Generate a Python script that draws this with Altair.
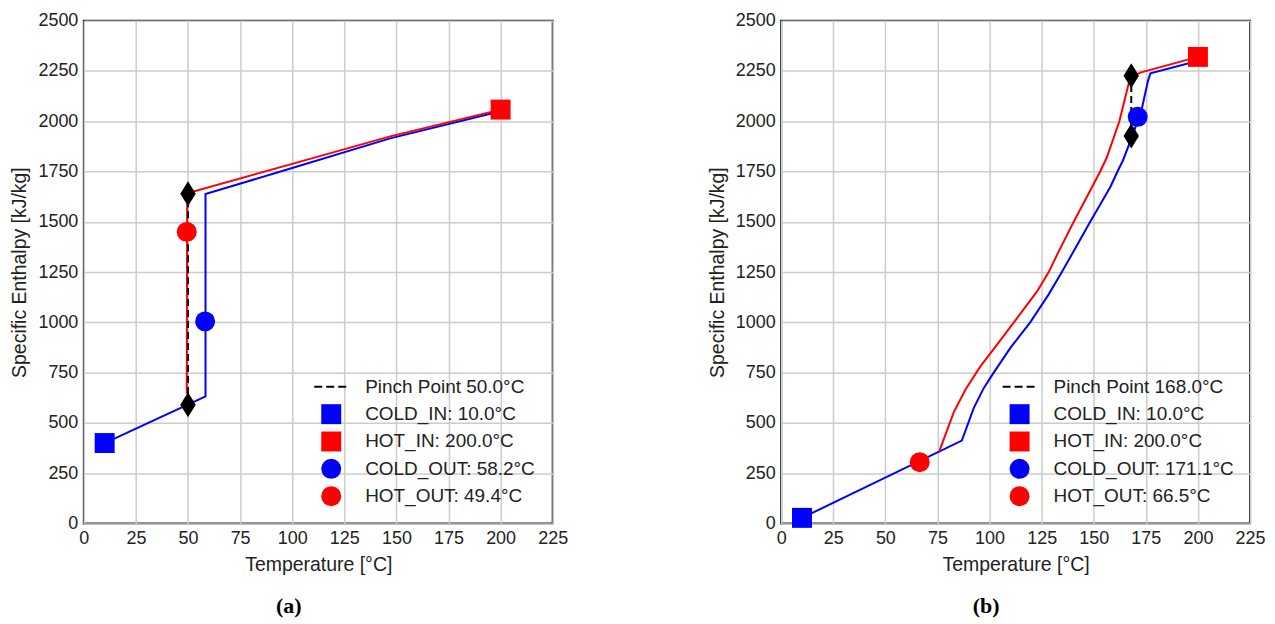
import altair as alt
import pandas as pd

# ---------------- data ----------------
x_ticks = [0, 25, 50, 75, 100, 125, 150, 175, 200, 225]
y_ticks = [0, 250, 500, 750, 1000, 1250, 1500, 1750, 2000, 2250, 2500]

# Panel (a)
a_cold_T = [10, 58.4, 58.4, 100, 147, 200]
a_cold_H = [400, 632, 1638, 1768, 1915, 2050]
a_hot_T = [200, 147, 100, 49.6, 49.4]
a_hot_H = [2058, 1925, 1788, 1642, 645]
a_pinch_T = 50.0
a_pinch_H = [590, 1640]
a_marker_T = [10.0, 200.0, 58.2, 49.4]
a_marker_H = [400, 2058, 1005, 1450]
a_labels = ["Pinch Point 50.0°C", "COLD_IN: 10.0°C", "HOT_IN: 200.0°C",
            "COLD_OUT: 58.2°C", "HOT_OUT: 49.4°C"]

# Panel (b)
b_cold_T = [10, 86.7, 92.4, 97.2, 102.0, 109.9, 119.5, 128.3, 134.7, 141.5,
            148.3, 157.9, 161.4, 164.0, 168.3, 171.0, 173.2, 176.0, 177.2,
            197, 200]
b_cold_H = [28, 412, 574, 673, 750, 872, 1000, 1138, 1250, 1375,
            1500, 1672, 1750, 1805, 1920, 2000, 2068, 2200, 2238,
            2292, 2302]
b_hot_T = [200, 172.3, 167.5, 165.1, 162.3, 156.3, 153.1, 148.3, 140.4,
           133.2, 128.4, 122.8, 113.2, 103.6, 95.6, 88.4, 82.8, 76]
b_hot_H = [2320, 2242, 2217, 2118, 2000, 1821, 1750, 1656, 1500,
           1353, 1250, 1154, 1021, 889, 781, 665, 553, 362]
b_pinch_T = 168.0
b_pinch_H = [1927, 2226]
b_marker_T = [10.0, 200.0, 171.1, 66.5]
b_marker_H = [28, 2320, 2022, 305]
b_labels = ["Pinch Point 168.0°C", "COLD_IN: 10.0°C", "HOT_IN: 200.0°C",
            "COLD_OUT: 171.1°C", "HOT_OUT: 66.5°C"]

BLUE = "#0000ff"
RED = "#ff0000"
TEXT = "#222222"
DIAMOND = "M0,-1L0.62,0L0,1L-0.62,0Z"
DASHES = ("M-1.7,-0.1H-0.9V0.1H-1.7Z M-0.5,-0.1H0.3V0.1H-0.5Z "
          "M0.7,-0.1H1.5V0.1H0.7Z")
legend_colors = ["black", BLUE, RED, BLUE, RED]
legend_shapes = [DASHES, "square", "square", "circle", "circle"]


def panel(cold_T, cold_H, hot_T, hot_H, pinch_T, pinch_H, mk_T, mk_H,
          labels, field, caption, legend_x):
    cold = pd.DataFrame({"T": cold_T, "H": cold_H, "i": range(len(cold_T))})
    hot = pd.DataFrame({"T": hot_T, "H": hot_H, "i": range(len(hot_T))})
    pinch = pd.DataFrame({"T": [pinch_T] * len(pinch_H), "H": pinch_H})
    markers = pd.DataFrame({"T": mk_T, "H": mk_H, field: labels[1:]})

    x = alt.X("T:Q", scale=alt.Scale(domain=[0, 225], nice=False),
              axis=alt.Axis(values=x_ticks, title="Temperature [°C]",
                            labelFlush=False, format="d"))
    y = alt.Y("H:Q", scale=alt.Scale(domain=[0, 2500], nice=False),
              axis=alt.Axis(values=y_ticks, title="Specific Enthalpy [kJ/kg]",
                            format="d"))

    leg = alt.Legend(orient="none", legendX=legend_x, legendY=357, title=None,
                     labelFont="Liberation Sans", labelFontSize=19,
                     labelColor=TEXT, labelLimit=400, symbolSize=400,
                     symbolStrokeWidth=0, symbolOpacity=1, rowPadding=7.4,
                     labelOffset=24, padding=0)

    cold_line = alt.Chart(cold).mark_line(color=BLUE, strokeWidth=2).encode(
        x=x, y=y, order="i:Q")
    hot_line = alt.Chart(hot).mark_line(color=RED, strokeWidth=2).encode(
        x=x, y=y, order="i:Q")
    pinch_line = alt.Chart(pinch).mark_line(
        color="black", strokeWidth=2, strokeDash=[7, 4]).encode(x=x, y=y)
    diamonds = alt.Chart(pinch).mark_point(
        shape=DIAMOND, size=625, filled=True, color="black", opacity=1,
        strokeWidth=0).encode(x=x, y=y)
    pts = alt.Chart(markers).mark_point(
        filled=True, size=400, opacity=1, strokeWidth=0).encode(
        x=x, y=y,
        color=alt.Color(f"{field}:N",
                        scale=alt.Scale(domain=labels, range=legend_colors),
                        legend=leg),
        shape=alt.Shape(f"{field}:N",
                        scale=alt.Scale(domain=labels, range=legend_shapes),
                        legend=leg),
    )
    return alt.layer(cold_line, hot_line, pinch_line, diamonds, pts).properties(
        width=470, height=504,
        title=alt.TitleParams(text=caption, orient="bottom",
                              font="Liberation Serif", fontSize=22,
                              fontWeight="bold", color="black",
                              frame="bounds", anchor="middle", offset=22),
    )


left = panel(a_cold_T, a_cold_H, a_hot_T, a_hot_H, a_pinch_T, a_pinch_H,
             a_marker_T, a_marker_H, a_labels, "label_a", "(a)", 238)
right = panel(b_cold_T, b_cold_H, b_hot_T, b_hot_H, b_pinch_T, b_pinch_H,
              b_marker_T, b_marker_H, b_labels, "label_b", "(b)", 229)

chart = alt.hconcat(left, right, spacing=229, bounds="flush").resolve_scale(
    color="independent", shape="independent"
).resolve_legend(
    color="independent", shape="independent"
).properties(
    padding={"left": 0, "top": 2, "right": 0, "bottom": 2},
    background="white",
).configure_view(
    stroke="#1a1a1a", strokeWidth=2
).configure_axis(
    labelFont="Liberation Sans", titleFont="Liberation Sans",
    labelFontSize=18, titleFontSize=19.5, titleFontWeight="normal",
    labelColor=TEXT, titleColor=TEXT, domain=False, ticks=False,
    gridColor="#cccccc", gridWidth=1.5, labelPadding=6, titlePadding=8,
    labelOverlap=False,
)

chart.save("out.html", embed_options={"renderer": "svg", "actions": False})
